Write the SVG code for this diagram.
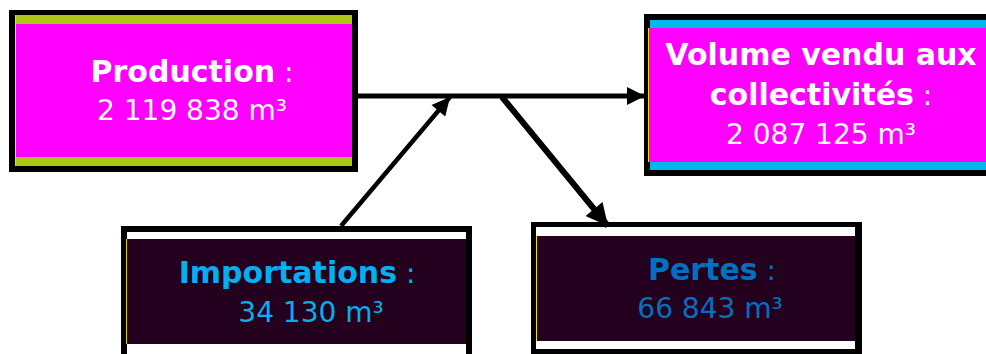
<svg xmlns="http://www.w3.org/2000/svg" width="986" height="354" viewBox="0 0 986 354">
<style>
  text { font-family: "DejaVu Sans", "Liberation Sans", sans-serif; font-size: 28px; text-anchor: middle; }
  .b { font-weight: bold; font-size: 30px; }
  .w { fill: #FFFFFF; }
  .imp { fill: #00B0F0; }
  .per { fill: #0070C0; }
  .frame { fill: #000000; }
  .conn { stroke: #000000; fill: none; }
</style>
<defs>
  <marker id="ah" viewBox="0 0 10 10" refX="10" refY="5" markerWidth="20" markerHeight="18" markerUnits="userSpaceOnUse" orient="auto">
    <path d="M0,0 L10,5 L0,10 Z" fill="#000"/>
  </marker>
  <marker id="ahL" viewBox="0 0 10 10" refX="10" refY="5" markerWidth="24" markerHeight="22" markerUnits="userSpaceOnUse" orient="auto">
    <path d="M0,0 L10,5 L0,10 Z" fill="#000"/>
  </marker>
</defs>
<rect width="986" height="354" fill="#FFFFFF"/>

<g id="production">
  <rect class="frame" x="9" y="10" width="349" height="162"/>
  <rect x="15" y="15" width="337" height="151" fill="#AEC614"/>
  <rect x="15" y="24" width="337" height="133" fill="#FF00FF"/>
  <rect x="15" y="15" width="1" height="151" fill="#F0E000"/>
  <text x="192" y="82" class="w"><tspan class="b">Production</tspan> :</text>
  <text x="192" y="120" class="w">2 119 838 m³</text>
</g>

<g id="volume">
  <rect class="frame" x="644" y="14" width="350" height="162"/>
  <rect x="650" y="20" width="340" height="150" fill="#00B8EC"/>
  <rect x="650" y="28" width="340" height="134" fill="#FF00FF"/>
  <rect x="648" y="28" width="1.5" height="134" fill="#F0E000"/>
  <text x="821" y="65" class="w b">Volume vendu aux</text>
  <text x="821" y="105" class="w"><tspan class="b">collectivités</tspan> :</text>
  <text x="821" y="144" class="w">2 087 125 m³</text>
</g>

<g id="importations">
  <rect class="frame" x="121" y="226" width="351" height="140"/>
  <rect x="127" y="232" width="339" height="134" fill="#FFFFFF"/>
  <rect x="127" y="239" width="339" height="105" fill="#22001E"/>
  <rect x="126" y="239" width="1" height="105" fill="#D8C800"/>
  <text x="297" y="283" class="imp"><tspan class="b">Importations</tspan> :</text>
  <text x="311" y="322" class="imp">34 130 m³</text>
</g>

<g id="pertes">
  <rect class="frame" x="531" y="222" width="331" height="132"/>
  <rect x="536" y="227" width="319" height="122" fill="#FFFFFF"/>
  <rect x="536" y="236" width="319" height="105" fill="#22001E"/>
  <rect x="536" y="236" width="1" height="105" fill="#F0E000"/>
  <text x="712" y="280" class="per"><tspan class="b">Pertes</tspan> :</text>
  <text x="710" y="318" class="per">66 843 m³</text>
</g>

<g id="connectors">
  <line class="conn" x1="358" y1="96" x2="645" y2="96" stroke-width="5" marker-end="url(#ah)"/>
  <line class="conn" x1="341" y1="226" x2="450" y2="97" stroke-width="4.5" marker-end="url(#ah)"/>
  <line class="conn" x1="502" y1="97" x2="608" y2="226" stroke-width="6" marker-end="url(#ahL)"/>
</g>
</svg>
